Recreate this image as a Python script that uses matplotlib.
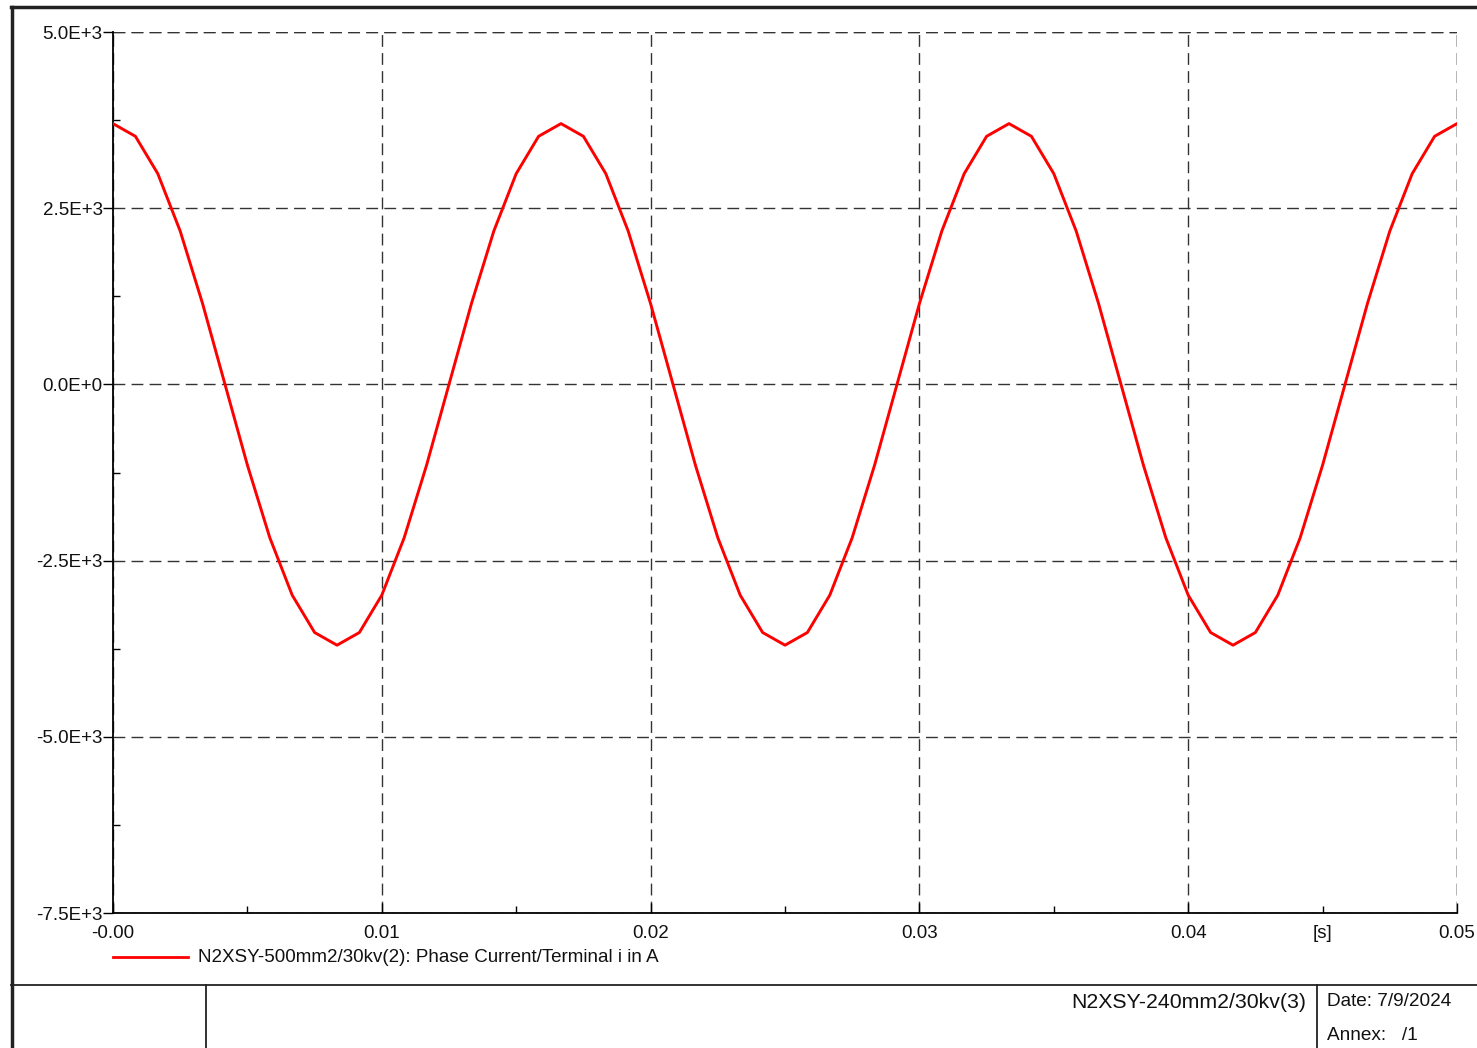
import numpy as np
import matplotlib.pyplot as plt
from matplotlib.lines import Line2D
from matplotlib.ticker import MultipleLocator

plt.rcParams['font.family'] = ['Liberation Sans', 'DejaVu Sans']

# phase current samples, one every 1/1200 s (0 .. 0.05 s)
current_a = [
    3700, 3520, 2990, 2175, 1145, 0, -1145, -2175, -2990, -3520,
    -3700, -3520, -2990, -2175, -1145, 0, 1145, 2175, 2990, 3520,
    3700, 3520, 2990, 2175, 1145, 0, -1145, -2175, -2990, -3520,
    -3700, -3520, -2990, -2175, -1145, 0, 1145, 2175, 2990, 3520,
    3700, 3520, 2990, 2175, 1145, 0, -1145, -2175, -2990, -3520,
    -3700, -3520, -2990, -2175, -1145, 0, 1145, 2175, 2990, 3520,
    3700,
]
time_s = np.linspace(0.0, 0.05, len(current_a))

y_ticks = [5000, 2500, 0, -2500, -5000, -7500]
y_labels = ["5.0E+3", "2.5E+3", "0.0E+0", "-2.5E+3", "-5.0E+3", "-7.5E+3"]
x_ticks = [0.0, 0.01, 0.02, 0.03, 0.04, 0.05]
x_labels = ["-0.00", "0.01", "0.02", "0.03", "0.04", "0.05"]

legend_text = "N2XSY-500mm2/30kv(2): Phase Current/Terminal i in A"
title_box = "N2XSY-240mm2/30kv(3)"
date_text = "Date: 7/9/2024"
annex_text = "Annex:   /1"

W, H = 1477, 1048
fig = plt.figure(figsize=(W / 100, H / 100), dpi=100)


def fx(px):
    return px / W


def fy(py):
    return 1 - py / H


GRID_LS = (0, (8.5, 4.5))
TXT = "#111111"

ax = fig.add_axes([fx(113), fy(913), fx(1457) - fx(113), fy(32) - fy(913)])
ax.plot(time_s, current_a, color="#ff0000", lw=2.1, zorder=3)
ax.set_xlim(0, 0.05)
ax.set_ylim(-7500, 5000)

ax.set_yticks(y_ticks, y_labels, fontsize=13.5, color=TXT)
ax.set_xticks(x_ticks, x_labels, fontsize=13.5, color=TXT)
ax.yaxis.set_minor_locator(MultipleLocator(1250))
ax.xaxis.set_minor_locator(MultipleLocator(0.005))
ax.tick_params(axis="y", which="major", direction="out", length=7, width=1, pad=0.5)
ax.tick_params(axis="y", which="minor", direction="in", length=5, width=1)
ax.tick_params(axis="x", which="major", direction="in", length=7, width=1, pad=9)
ax.tick_params(axis="x", which="minor", direction="in", length=5, width=1)

ax.grid(True, which="major", color="#333333", lw=1, ls=GRID_LS)
for side in ("top", "right"):
    ax.spines[side].set_visible(False)
ax.axhline(5000, color="#333333", lw=1, ls=GRID_LS, zorder=2)
ax.axvline(0.05, color="#333333", lw=1, ls=GRID_LS, zorder=2)
ax.spines["left"].set_linewidth(1.3)
ax.spines["bottom"].set_linewidth(1.3)

# time unit sits in the tick label row
ax.annotate("[s]", xy=(0.045, 0), xycoords=("data", "axes fraction"),
            xytext=(0, -9), textcoords="offset points", ha="center", va="top",
            fontsize=13.5, color=TXT)

# legend
fig.add_artist(Line2D([fx(113), fx(188)], [fy(957), fy(957)], color="#ff0000", lw=2.0))
fig.text(fx(198), fy(958), legend_text, fontsize=13.5, va="center", ha="left", color=TXT)

# outer frame
fig.add_artist(Line2D([fx(12), fx(12)], [fy(7), 0], color="#222222", lw=2.5))
fig.add_artist(Line2D([fx(11), 1], [fy(7), fy(7)], color="#222222", lw=2.5))
fig.add_artist(Line2D([fx(11), 1], [fy(985), fy(985)], color="#222222", lw=1.3))
fig.add_artist(Line2D([fx(206), fx(206)], [fy(985), 0], color="#222222", lw=1.3))
fig.add_artist(Line2D([fx(1317), fx(1317)], [fy(985), 0], color="#222222", lw=1.3))

fig.text(fx(1306), fy(1003), title_box, fontsize=15.3, ha="right", va="center", color=TXT)
fig.text(fx(1327), fy(1001), date_text, fontsize=13.7, ha="left", va="center", color=TXT)
fig.text(fx(1327), fy(1035), annex_text, fontsize=13.7, ha="left", va="center", color=TXT)

fig.savefig("out.png", dpi=100, facecolor="white")
